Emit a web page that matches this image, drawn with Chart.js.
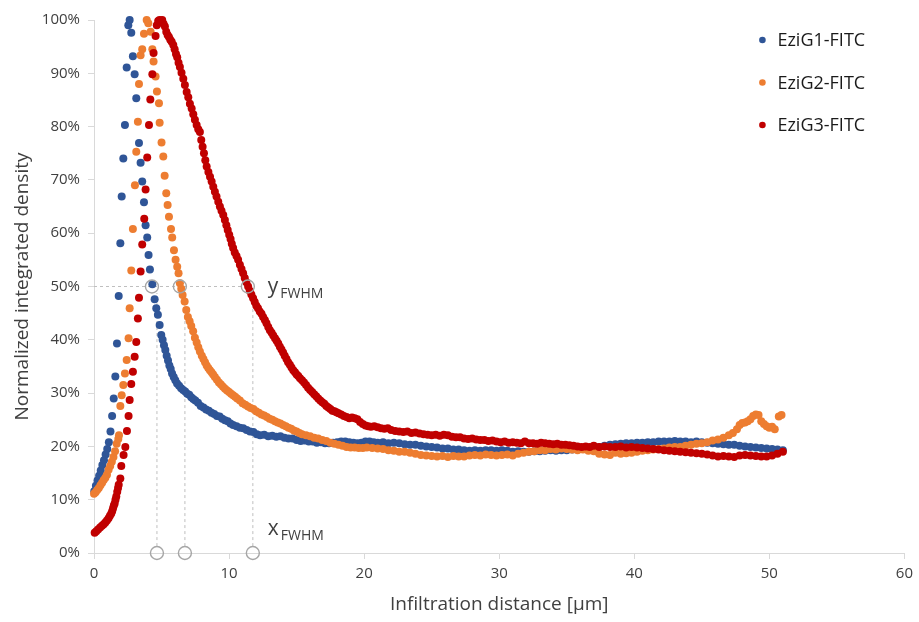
<!DOCTYPE html>
<html>
<head>
<meta charset="utf-8">
<script src="https://cdn.jsdelivr.net/npm/chart.js@4"></script>
<style>
  html, body { margin: 0; padding: 0; background: #fff; }
  canvas { display: block; }
</style>
</head>
<body>
<canvas id="chart" width="919" height="622"></canvas>
<script>
// ── Series labels
const seriesNames = ['EziG1-FITC', 'EziG2-FITC', 'EziG3-FITC'];

// ── EziG1-FITC (blue)
const g1X = [0.02,0.14,0.26,0.38,0.50,0.62,0.74,0.86,0.98,1.10,1.22,1.34,1.46,1.58,1.70,1.83,1.95,2.05,2.17,2.29,2.42,2.54,2.64,
  2.76,2.88,3.01,3.13,3.33,3.45,3.57,3.70,3.82,3.94,4.04,4.14,4.32,4.49,4.61,4.73,4.86,4.98,
  5.08,5.18,5.28,5.38,5.48,5.58,5.68,5.78,5.90,6.02,6.15,6.30,6.45,6.60,6.75,6.90,7.05,7.20,7.35,7.50,7.70,7.90,
  8.10,8.30,8.50,8.70,8.90,9.10,9.30,9.50,9.70,9.90,10.10,10.30,10.55,10.80,11.05,11.30,11.55,11.80,12.05,12.30,
  12.60,12.90,13.20,13.50,13.80,14.10,14.40,14.70,15.00,15.30,15.60,15.90,16.20,16.50,16.80,17.10,17.40,17.70,
  18.00,18.30,18.60,18.90,19.20,19.50,19.80,20.10,20.40,20.70,21.0,21.4,21.8,22.2,22.6,23.0,23.4,23.8,24.2,24.6,
  25.0,25.4,25.8,26.2,26.6,27.0,27.4,27.8,28.2,28.6,29.0,29.4,29.8,30.2,30.6,31.0,31.4,31.8,32.2,32.6,33.0,33.4,
  33.8,34.2,34.6,35.0,35.4,35.8,36.2,36.6,37.0,37.4,37.8,38.2,38.6,39.0,39.4,39.8,40.2,40.6,41.0,41.4,41.8,42.2,
  42.6,43.0,43.4,43.8,44.2,44.6,45.0,45.4,45.8,46.2,46.6,47.0,47.4,47.8,48.2,48.6,49.0,49.4,49.8,50.2,50.6,51.0];
const g1Y = [11.6,12.6,13.6,14.5,15.5,16.5,17.4,18.5,19.5,20.8,22.8,25.7,29.0,33.1,39.3,48.2,58.1,66.9,74.0,80.3,91.1,99.0,100.0,
  97.6,93.2,89.8,85.3,76.9,73.2,69.7,65.8,61.5,59.2,55.9,53.2,50.4,47.6,45.9,44.7,42.8,40.9,
  40.0,39.0,38.1,37.0,36.1,35.2,34.5,33.7,33.0,32.4,31.8,31.4,30.9,30.6,30.3,29.9,29.7,29.2,28.9,28.6,28.2,27.6,
  27.3,26.9,26.7,26.3,26.1,25.7,25.6,25.2,24.9,24.7,24.3,24.0,23.8,23.5,23.4,23.1,22.8,22.7,22.3,22.1,
  22.2,21.9,22.0,21.8,21.9,21.6,21.5,21.5,21.2,21.0,21.1,20.9,20.9,20.7,20.8,20.6,20.6,20.7,
  20.8,20.9,20.9,20.8,20.7,20.6,20.7,20.9,20.9,20.8,20.7,20.8,20.6,20.7,20.6,20.4,20.3,20.3,20.1,20.0,
  19.9,19.8,19.6,19.6,19.4,19.4,19.3,19.2,19.3,19.2,19.3,19.3,19.2,19.3,19.2,19.0,19.1,19.0,19.0,19.1,19.1,19.2,
  19.3,19.2,19.3,19.3,19.4,19.5,19.5,19.6,19.7,19.9,20.1,20.3,20.4,20.5,20.6,20.6,20.7,20.7,20.8,20.8,20.9,20.9,
  20.9,21.0,20.9,20.9,20.8,20.9,20.8,20.7,20.6,20.5,20.4,20.3,20.3,20.1,20.0,19.9,19.8,19.7,19.6,19.5,19.4,19.3];

// ── EziG2-FITC (orange)
const g2X = [0.00,0.12,0.24,0.36,0.48,0.60,0.72,0.84,0.96,1.08,1.20,1.32,1.44,1.56,1.68,1.80,1.85,1.95,2.05,2.17,2.29,2.42,2.56,2.64,
  2.76,2.88,3.03,3.13,3.25,3.33,3.45,3.57,3.70,3.90,4.02,4.19,4.32,4.41,4.56,4.66,4.81,4.86,5.00,5.13,5.23,5.35,5.45,
  5.55,5.70,5.79,5.92,6.04,6.16,6.26,6.36,6.46,6.56,6.71,6.83,6.95,7.08,7.20,7.34,7.47,7.60,7.72,7.84,7.98,
  8.10,8.22,8.34,8.46,8.58,8.70,8.82,8.95,9.10,9.25,9.40,9.55,9.70,9.85,10.00,10.15,10.30,10.45,10.60,10.80,
  11.00,11.20,11.40,11.60,11.80,12.00,12.20,12.40,12.60,12.80,13.00,13.20,13.40,13.60,13.80,14.00,14.20,14.40,
  14.60,14.80,15.00,15.20,15.40,15.70,16.00,16.30,16.60,16.90,17.20,17.50,17.80,18.10,18.40,18.70,19.00,19.30,
  19.60,19.90,20.2,20.6,21.0,21.4,21.8,22.2,22.6,23.0,23.4,23.8,24.2,24.6,25.0,25.4,25.8,26.2,26.6,27.0,27.4,
  27.8,28.2,28.6,29.0,29.4,29.8,30.2,30.6,31.0,31.4,31.8,32.2,32.6,33.0,33.4,33.8,34.2,34.6,35.0,35.4,35.8,
  36.2,36.6,37.0,37.4,37.8,38.2,38.6,39.0,39.4,39.8,40.2,40.6,41.0,41.4,41.8,42.2,42.6,43.0,43.4,43.8,44.2,
  44.6,45.0,45.4,45.8,46.2,46.6,47.0,47.3,47.6,47.8,48.0,48.2,48.4,48.6,48.8,49.0,49.2,49.4,49.6,49.8,50.0,
  50.2,50.4,50.7,50.9];
const g2Y = [11.1,11.4,11.8,12.2,12.7,13.2,13.7,14.1,14.7,15.6,16.3,17.1,18.0,19.1,20.5,21.4,22.1,27.6,29.6,31.5,33.7,36.2,40.3,45.9,
  53.0,60.8,69.0,75.3,80.9,88.0,93.4,94.5,97.4,100.0,99.4,97.8,94.5,92.2,89.4,86.6,84.4,80.7,77.0,74.4,70.8,67.5,65.3,
  63.1,60.8,59.2,56.8,55.0,53.7,52.5,50.6,49.6,48.4,47.2,45.6,44.3,43.5,42.6,41.6,40.4,39.5,38.6,37.8,37.0,
  36.4,35.8,35.2,34.7,34.3,33.9,33.5,33.0,32.5,32.0,31.6,31.2,30.8,30.5,30.2,29.9,29.6,29.3,29.0,28.6,
  28.1,27.8,27.5,27.2,27.0,26.6,26.3,26.0,25.8,25.5,25.2,25.0,24.7,24.5,24.3,24.0,23.8,23.5,
  23.3,23.0,22.8,22.5,22.3,22.1,21.9,21.6,21.5,21.2,21.0,20.7,20.5,20.3,20.1,19.9,19.8,19.8,
  19.7,19.7,19.8,19.7,19.6,19.5,19.3,19.2,19.0,19.0,18.8,18.6,18.4,18.3,18.2,18.1,18.2,18.0,18.2,18.1,18.1,
  18.3,18.4,18.3,18.5,18.4,18.3,18.4,18.5,18.3,18.6,18.8,19.0,19.1,19.3,19.3,19.5,19.4,19.6,19.5,19.4,19.3,
  19.4,19.2,19.1,18.6,18.5,18.4,18.8,18.6,18.7,18.8,19.0,19.2,19.3,19.4,19.5,19.6,19.8,19.9,19.9,20.1,20.3,
  20.5,20.6,20.8,21.1,21.3,21.6,22.1,22.5,23.2,24.0,24.4,24.5,24.7,25.1,25.7,26.0,25.9,24.7,24.2,23.8,23.5,
  23.7,23.2,25.6,25.9];

// ── EziG3-FITC (red)
const g3X = [0.05,0.17,0.30,0.45,0.59,0.72,0.84,0.96,1.08,1.18,1.28,1.35,1.41,1.47,1.53,1.59,1.65,1.72,1.78,1.83,1.95,2.02,2.19,2.32,
  2.44,2.56,2.64,2.76,2.88,3.01,3.13,3.25,3.33,3.45,3.57,3.72,3.82,3.94,4.07,4.17,4.32,4.41,4.56,4.65,4.75,4.85,4.95,
  5.05,5.15,5.25,5.35,5.45,5.55,5.65,5.75,5.87,5.97,6.07,6.16,6.26,6.36,6.48,6.61,6.73,6.86,6.98,7.10,7.23,7.35,
  7.47,7.60,7.72,7.84,7.94,8.04,8.14,8.24,8.34,8.47,8.59,8.71,8.83,8.95,9.07,9.20,9.32,9.44,9.57,9.69,9.80,9.90,
  10.01,10.11,10.20,10.30,10.42,10.55,10.67,10.80,10.92,11.04,11.16,11.28,11.41,11.53,11.65,11.78,11.90,12.02,
  12.14,12.27,12.40,12.52,12.65,12.77,12.90,13.02,13.15,13.27,13.40,13.52,13.64,13.76,13.88,14.00,14.12,14.25,
  14.37,14.50,14.62,14.75,14.88,15.00,15.12,15.25,15.40,15.55,15.70,15.85,16.00,16.15,16.30,16.45,16.60,16.75,
  16.90,17.05,17.20,17.35,17.50,17.65,17.80,17.95,18.10,18.30,18.50,18.70,18.90,19.10,19.30,19.50,19.70,19.90,
  20.10,20.30,20.50,20.75,21.00,21.25,21.50,21.75,22.00,22.30,22.60,22.90,23.20,23.50,23.80,24.10,24.40,24.70,
  25.00,25.30,25.60,25.90,26.20,26.50,26.80,27.10,27.40,27.70,28.00,28.30,28.60,28.90,29.20,29.50,29.80,30.10,
  30.40,30.70,31.00,31.30,31.60,31.90,32.20,32.50,32.80,33.10,33.40,33.70,34.00,34.30,34.60,34.90,35.20,35.50,
  35.80,36.10,36.40,36.70,37.00,37.40,37.80,38.20,38.60,39.00,39.40,39.80,40.20,40.60,41.00,41.40,41.80,42.20,
  42.60,43.00,43.40,43.80,44.20,44.60,45.00,45.40,45.80,46.20,46.60,47.00,47.40,47.80,48.20,48.60,49.00,49.40,
  49.80,50.20,50.60,51.00];
const g3Y = [3.8,4.1,4.4,4.8,5.1,5.4,5.7,6.1,6.5,7.0,7.4,7.9,8.4,8.9,9.3,10.0,10.6,11.5,12.2,12.8,14.0,16.3,18.4,19.9,
  22.9,25.7,28.7,31.7,34.0,36.8,39.6,44.0,47.9,52.8,57.9,62.7,68.2,74.2,80.3,85.1,89.8,93.8,97.0,99.0,99.8,100.0,99.6,
  100.0,99.3,98.8,97.8,97.2,96.8,96.3,95.9,95.3,94.5,93.6,93.0,92.0,91.2,90.1,89.0,87.8,86.5,85.5,84.3,83.4,82.3,
  81.3,80.3,79.5,79.0,77.5,76.2,75.0,73.7,72.5,71.5,70.6,69.7,68.7,67.8,66.9,65.9,65.0,64.2,63.4,62.5,61.5,60.6,
  59.7,58.9,58.0,57.2,56.4,55.7,55.0,54.1,53.3,52.5,51.6,50.8,50.0,49.2,48.5,47.8,47.1,46.4,
  45.9,45.3,44.9,44.3,43.7,43.1,42.4,41.8,41.3,40.8,40.3,39.8,39.3,38.7,38.2,37.6,37.0,36.4,
  35.8,35.3,34.8,34.3,33.9,33.5,33.2,32.8,32.4,32.0,31.5,31.0,30.6,30.2,29.8,29.4,29.0,28.6,
  28.3,28.0,27.6,27.3,27.0,26.7,26.6,26.4,26.2,26.0,25.7,25.5,25.3,25.4,25.3,25.1,24.6,24.2,
  23.9,23.8,23.7,23.8,23.6,23.4,23.3,23.4,23.1,22.9,22.8,22.7,22.8,22.5,22.6,22.4,22.3,22.2,
  22.1,22.2,22.0,22.2,22.1,21.8,21.7,21.7,21.5,21.4,21.5,21.3,21.2,21.2,21.0,21.1,20.9,20.8,
  20.9,20.7,20.8,20.7,20.6,20.9,20.6,20.6,20.5,20.7,20.6,20.5,20.4,20.5,20.3,20.3,20.2,20.1,
  20.0,19.9,20.0,19.9,20.1,19.9,20.0,19.9,19.9,20.0,19.8,19.9,19.8,19.7,19.6,19.5,19.4,19.3,
  19.2,19.1,19.0,18.9,18.8,18.7,18.6,18.5,18.3,18.1,18.2,18.1,18.0,18.3,18.4,18.3,18.2,18.1,
  18.1,18.3,18.6,19.0];

// ── FWHM markers
const fwhmLevel = 50;
const fwhmTopX = [4.29, 6.36, 11.39];
const fwhmBottomX = [4.66, 6.73, 11.76];

// ── Axes
const xTicks = [0, 10, 20, 30, 40, 50, 60];
const yTicks = [0, 10, 20, 30, 40, 50, 60, 70, 80, 90, 100];

const colors = ['#2F5597', '#ED7D31', '#C00000'];
const guideGray = '#bfbfbf';
const circleGray = '#a6a6a6';
const axisGray = '#d9d9d9';
const textColor = '#404040';
const fontFamily = "'Open Sans', sans-serif";

const toPoints = (xs, ys) => xs.map((x, i) => ({ x, y: ys[i] }));

const seriesData = [toPoints(g1X, g1Y), toPoints(g2X, g2Y), toPoints(g3X, g3Y)];

const seriesSets = seriesData.map((data, i) => ({
  label: seriesNames[i],
  data,
  pointRadius: 4,
  pointBackgroundColor: colors[i],
  pointBorderWidth: 0,
  borderColor: colors[i],
  backgroundColor: colors[i],
  showLine: false,
  clip: false,
  order: 3 - i,
}));

// dashed guides: one horizontal at FWHM level, one vertical per series
const guideSets = [
  [{ x: 0, y: fwhmLevel }, { x: fwhmTopX[2] - 0.45, y: fwhmLevel }],
  ...fwhmBottomX.map(x => [{ x, y: 1.3 }, { x, y: fwhmLevel - 1.2 }]),
].map(data => ({
  data,
  showLine: true,
  borderColor: guideGray,
  borderWidth: 1,
  borderDash: [3, 3],
  pointRadius: 0,
  clip: false,
  order: 10,
}));

const circleSet = {
  data: [
    ...fwhmTopX.map(x => ({ x, y: fwhmLevel })),
    ...fwhmBottomX.map(x => ({ x, y: 0 })),
  ],
  pointRadius: 6.5,
  pointBackgroundColor: 'rgba(0,0,0,0)',
  pointBorderColor: circleGray,
  pointBorderWidth: 1.4,
  showLine: false,
  clip: false,
  order: 0,
};

// legend + FWHM labels drawn on top
const notesPlugin = {
  id: 'notes',
  afterDatasetsDraw(chart) {
    const { ctx, chartArea, scales: { x, y } } = chart;
    ctx.save();
    ctx.fillStyle = textColor;
    ctx.textBaseline = 'alphabetic';

    // subscripted labels
    const drawSub = (main, sub, px, py) => {
      ctx.font = `21px ${fontFamily}`;
      ctx.fillText(main, px, py);
      const w = ctx.measureText(main).width;
      ctx.font = `14px ${fontFamily}`;
      ctx.fillText(sub, px + w + 2, py + 5);
    };
    drawSub('y', 'FWHM', x.getPixelForValue(fwhmTopX[2]) + 20, y.getPixelForValue(fwhmLevel) + 6);
    drawSub('x', 'FWHM', x.getPixelForValue(fwhmBottomX[2]) + 15, y.getPixelForValue(0) - 18);

    // legend
    ctx.textBaseline = 'middle';
    ctx.font = `18px ${fontFamily}`;
    seriesNames.forEach((name, i) => {
      const cy = chartArea.top + 20 + i * 42.5;
      const cx = chartArea.right - 142;
      ctx.beginPath();
      ctx.arc(cx, cy, 3.3, 0, Math.PI * 2);
      ctx.fillStyle = colors[i];
      ctx.fill();
      ctx.fillStyle = '#1a1a1a';
      ctx.fillText(name, cx + 15, cy + 1);
    });
    ctx.restore();
  },
};

new Chart(document.getElementById('chart'), {
  type: 'scatter',
  data: { datasets: [...seriesSets, ...guideSets, circleSet] },
  plugins: [notesPlugin],
  options: {
    responsive: false,
    animation: false,
    events: [],
    layout: { padding: { left: 0, right: 14, top: 20, bottom: 0 } },
    plugins: { legend: { display: false }, tooltip: { enabled: false } },
    scales: {
      x: {
        type: 'linear',
        min: 0,
        max: 60,
        afterBuildTicks: s => { s.ticks = xTicks.map(value => ({ value })); },
        afterFit: s => { s.height = 69; },
        ticks: { color: textColor, font: { family: fontFamily, size: 15 }, padding: 6 },
        grid: { drawOnChartArea: false, tickLength: 6, color: axisGray },
        border: { color: axisGray, width: 1 },
        title: {
          display: true,
          text: 'Infiltration distance [µm]',
          color: textColor,
          font: { family: fontFamily, size: 19 },
          padding: { top: 0, bottom: 6 },
        },
      },
      y: {
        type: 'linear',
        min: 0,
        max: 100,
        afterBuildTicks: s => { s.ticks = yTicks.map(value => ({ value })); },
        afterFit: s => { s.width = 94; },
        ticks: {
          color: textColor,
          font: { family: fontFamily, size: 15 },
          padding: 8,
          callback: v => v + '%',
        },
        grid: { drawOnChartArea: false, tickLength: 6, color: axisGray },
        border: { color: axisGray, width: 1 },
        title: {
          display: true,
          text: 'Normalized integrated density',
          color: textColor,
          font: { family: fontFamily, size: 19 },
          padding: { top: 11, bottom: 0 },
        },
      },
    },
  },
});
</script>
</body>
</html>
